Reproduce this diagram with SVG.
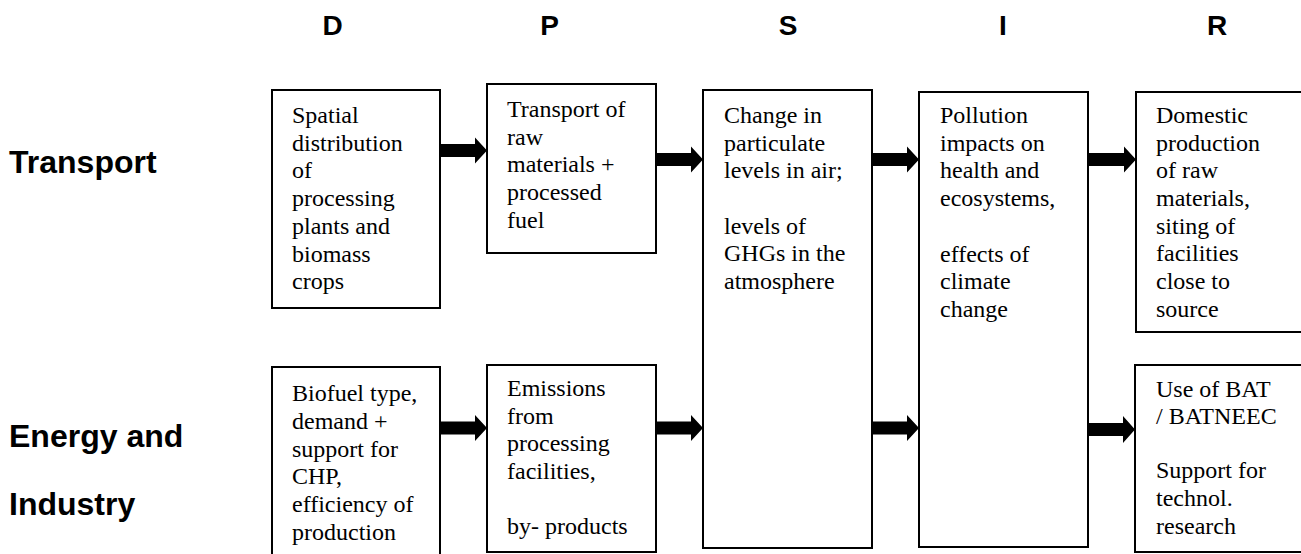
<svg xmlns="http://www.w3.org/2000/svg" width="1301" height="554" viewBox="0 0 1301 554">
<style>
.hdr{font-family:"Liberation Sans",Arial,sans-serif;font-weight:bold;font-size:28px;fill:#000;text-anchor:middle}
.row{font-family:"Liberation Sans",Arial,sans-serif;font-weight:bold;font-size:32px;fill:#000}
.box{fill:#fff;stroke:#000;stroke-width:2}
.txt{font-family:"Liberation Serif","Times New Roman",serif;font-size:24px;fill:#000}
.arr{fill:#000}
</style>
<rect width="1301" height="554" fill="#fff"/>
<g id="headers">
<text class="hdr" x="332.5" y="35">D</text>
<text class="hdr" x="549.5" y="35">P</text>
<text class="hdr" x="788" y="35">S</text>
<text class="hdr" x="1003" y="35">I</text>
<text class="hdr" x="1217" y="35">R</text>
</g>
<g id="row-labels">
<text class="row" x="9" y="173">Transport</text>
<text class="row" x="9" y="447">Energy and</text>
<text class="row" x="9" y="515">Industry</text>
</g>
<g id="D1">
<rect class="box" x="272" y="90" width="168" height="218"/>
<text class="txt"><tspan x="292" y="123">Spatial</tspan><tspan x="292" y="151">distribution</tspan><tspan x="292" y="178">of</tspan><tspan x="292" y="206">processing</tspan><tspan x="292" y="234">plants and</tspan><tspan x="292" y="262">biomass</tspan><tspan x="292" y="289">crops</tspan></text>
</g>
<g id="P1">
<rect class="box" x="487" y="84" width="169" height="169"/>
<text class="txt"><tspan x="507" y="117">Transport of</tspan><tspan x="507" y="145">raw</tspan><tspan x="507" y="172">materials +</tspan><tspan x="507" y="200">processed</tspan><tspan x="507" y="228">fuel</tspan></text>
</g>
<g id="S">
<rect class="box" x="703" y="90" width="169" height="458"/>
<text class="txt"><tspan x="724" y="123">Change in</tspan><tspan x="724" y="151">particulate</tspan><tspan x="724" y="178">levels in air;</tspan><tspan x="724" y="234">levels of</tspan><tspan x="724" y="261">GHGs in the</tspan><tspan x="724" y="289">atmosphere</tspan></text>
</g>
<g id="I">
<rect class="box" x="919" y="92" width="169" height="455"/>
<text class="txt"><tspan x="940" y="123">Pollution</tspan><tspan x="940" y="151">impacts on</tspan><tspan x="940" y="178">health and</tspan><tspan x="940" y="206">ecosystems,</tspan><tspan x="940" y="262">effects of</tspan><tspan x="940" y="289">climate</tspan><tspan x="940" y="317">change</tspan></text>
</g>
<g id="R1">
<rect class="box" x="1136" y="92" width="180" height="240"/>
<text class="txt"><tspan x="1156" y="123">Domestic</tspan><tspan x="1156" y="151">production</tspan><tspan x="1156" y="178">of raw</tspan><tspan x="1156" y="206">materials,</tspan><tspan x="1156" y="234">siting of</tspan><tspan x="1156" y="261">facilities</tspan><tspan x="1156" y="289">close to</tspan><tspan x="1156" y="317">source</tspan></text>
</g>
<g id="D2">
<rect class="box" x="272" y="367" width="168" height="200"/>
<text class="txt"><tspan x="292" y="401">Biofuel type,</tspan><tspan x="292" y="429">demand +</tspan><tspan x="292" y="457">support for</tspan><tspan x="292" y="484">CHP,</tspan><tspan x="292" y="512">efficiency of</tspan><tspan x="292" y="540">production</tspan></text>
</g>
<g id="P2">
<rect class="box" x="487" y="365" width="169" height="187"/>
<text class="txt"><tspan x="507" y="396">Emissions</tspan><tspan x="507" y="424">from</tspan><tspan x="507" y="451">processing</tspan><tspan x="507" y="479">facilities,</tspan><tspan x="507" y="534">by- products</tspan></text>
</g>
<g id="R2">
<rect class="box" x="1135" y="365" width="180" height="187"/>
<text class="txt"><tspan x="1156" y="397">Use of BAT</tspan><tspan x="1156" y="424">/ BATNEEC</tspan><tspan x="1156" y="478">Support for</tspan><tspan x="1156" y="506">technol.</tspan><tspan x="1156" y="534">research</tspan></text>
</g>
<g id="connectors">
<polygon class="arr" points="441,144 475,144 475,137.5 487,150.5 475,163.5 475,157 441,157"/>
<polygon class="arr" points="657,153 691,153 691,146.5 703,159.5 691,172.5 691,166 657,166"/>
<polygon class="arr" points="873,153 907,153 907,146.5 919,159.5 907,172.5 907,166 873,166"/>
<polygon class="arr" points="1089,153 1124,153 1124,146.5 1136,159.5 1124,172.5 1124,166 1089,166"/>
<polygon class="arr" points="441,421.5 475,421.5 475,415 487,428 475,441 475,434.5 441,434.5"/>
<polygon class="arr" points="657,421.5 691,421.5 691,415 703,428 691,441 691,434.5 657,434.5"/>
<polygon class="arr" points="873,421.5 907,421.5 907,415 919,428 907,441 907,434.5 873,434.5"/>
<polygon class="arr" points="1088,423 1123,423 1123,416 1135,429.5 1123,443 1123,436 1088,436"/>
</g>
</svg>
